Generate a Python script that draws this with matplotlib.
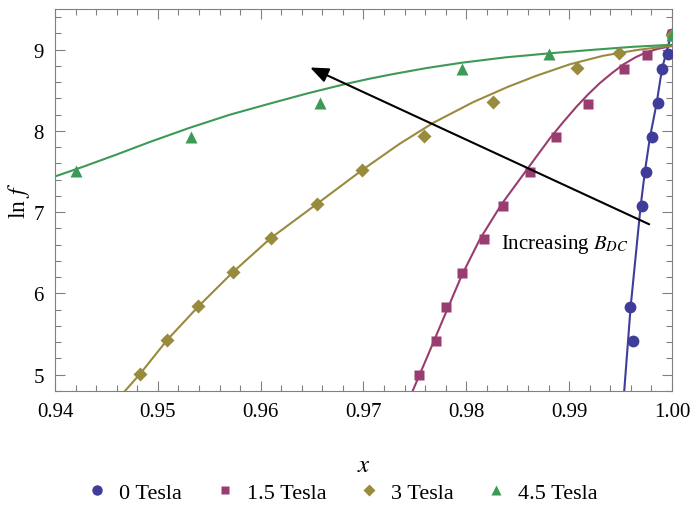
import matplotlib
matplotlib.use("Agg")
import matplotlib.pyplot as plt
from matplotlib.lines import Line2D
from matplotlib.ticker import MultipleLocator, FormatStrFormatter

plt.rcParams['font.family'] = ['Liberation Serif', 'DejaVu Serif']
plt.rcParams['mathtext.fontset'] = 'stix'

labels = ["0 Tesla", "1.5 Tesla", "3 Tesla", "4.5 Tesla"]
colors = ["#3F3D99", "#993D71", "#998B3D", "#3D9956"]
markers = ["o", "s", "D", "^"]

# measured points
x0 = [0.99624, 0.99592, 0.99705, 0.99747, 0.99809, 0.99867, 0.99903, 0.99964, 1.0]
y0 = [5.41, 5.83, 7.08, 7.50, 7.92, 8.34, 8.76, 8.95, 9.19]

x15 = [0.97543, 0.97702, 0.97799, 0.97955, 0.98175, 0.98360, 0.98619, 0.98869, 0.99186, 0.99530, 0.99754, 1.0]
y15 = [5.00, 5.41, 5.83, 6.25, 6.67, 7.08, 7.50, 7.92, 8.33, 8.76, 8.94, 9.19]

x3 = [0.94827, 0.95092, 0.95394, 0.95728, 0.96097, 0.96545, 0.96989, 0.97591, 0.98257, 0.99077, 0.99488, 1.0]
y3 = [5.01, 5.43, 5.84, 6.26, 6.68, 7.10, 7.52, 7.94, 8.35, 8.77, 8.96, 9.18]

x45 = [0.94204, 0.95323, 0.96577, 0.97958, 0.98807, 1.0]
y45 = [7.51, 7.93, 8.34, 8.76, 8.95, 9.18]

# fitted curves
fx0 = [0.99536, 0.99598, 0.99696, 0.99738, 0.99786, 0.99851, 0.99903, 0.99942, 1.0]
fy0 = [4.80, 5.83, 7.08, 7.51, 7.92, 8.34, 8.76, 8.95, 9.22]

fx15 = [0.97478, 0.97620, 0.97780, 0.97955, 0.98133, 0.98344, 0.98587, 0.98700, 0.98814,
        0.98940, 0.99073, 0.99185, 0.99300, 0.99415, 0.99530, 0.99645, 0.99754, 0.99880, 1.0]
fy15 = [4.80, 5.22, 5.70, 6.22, 6.67, 7.10, 7.52, 7.715, 7.91,
        8.105, 8.30, 8.45, 8.59, 8.71, 8.82, 8.905, 8.97, 9.015, 9.045]

fx3 = [0.94680, 0.94827, 0.95092, 0.95394, 0.95728, 0.96097, 0.96545, 0.96989, 0.97350,
       0.97679, 0.98068, 0.98400, 0.98684, 0.99008, 0.99332, 0.99657, 1.0]
fy3 = [4.80, 5.01, 5.43, 5.84, 6.26, 6.68, 7.10, 7.52, 7.84,
       8.10, 8.355, 8.54, 8.68, 8.82, 8.925, 8.995, 9.05]

fx45 = [0.9400, 0.94275, 0.94600, 0.94924, 0.95313, 0.95702, 0.96091, 0.96450, 0.96800,
        0.97050, 0.97290, 0.97620, 0.97960, 0.98380, 0.98810, 0.99250, 0.99620, 1.0]
fy45 = [7.44, 7.56, 7.71, 7.865, 8.04, 8.20, 8.337, 8.46, 8.57,
        8.64, 8.70, 8.775, 8.84, 8.905, 8.955, 9.00, 9.035, 9.06]

xs = [x0, x15, x3, x45]
ys = [y0, y15, y3, y45]
fxs = [fx0, fx15, fx3, fx45]
fys = [fy0, fy15, fy3, fy45]

fig = plt.figure(figsize=(6.92, 5.06), dpi=100)
ax = fig.add_axes([0.0795, 0.2253, 0.8915, 0.7549])

for i in range(4):
    ax.plot(fxs[i], fys[i], color=colors[i], lw=1.5, zorder=2)
    ax.plot(xs[i], ys[i], ls="none", marker=markers[i], color=colors[i],
            ms=[8.5, 7, 7, 8.5][i], mec="none", zorder=3)

ax.annotate("", xy=(0.96457, 8.795), xytext=(0.99803, 6.837),
            arrowprops=dict(arrowstyle="-|>,head_length=1.1,head_width=0.45", color="black", lw=1.5))
ax.text(0.98337, 6.61, "Increasing $B_{DC}$", fontsize=15, va="center", ha="left")

ax.set_xlim(0.94, 1.0)
ax.set_ylim(4.8, 9.5)
ax.xaxis.set_major_locator(MultipleLocator(0.01))
ax.xaxis.set_minor_locator(MultipleLocator(0.002))
ax.yaxis.set_major_locator(MultipleLocator(1))
ax.yaxis.set_minor_locator(MultipleLocator(0.2))
ax.xaxis.set_major_formatter(FormatStrFormatter("%.2f"))
ax.tick_params(which="both", direction="in", top=True, right=True, color="#808080", labelsize=15)
ax.tick_params(which="major", length=7, width=0.8, pad=8)
ax.tick_params(which="minor", length=4, width=0.8)
for s in ax.spines.values():
    s.set_color("#808080")

ax.set_xlabel("$x$", fontsize=18, labelpad=24)
ax.set_ylabel("ln $f$", fontsize=17, labelpad=1)

handles = [Line2D([], [], ls="none", marker=markers[i], color=colors[i], mec="none",
                  ms=[7.5, 6, 6.5, 7][i]) for i in range(4)]
fig.legend(handles, labels, loc="center", bbox_to_anchor=(0.494, 0.024), ncol=4,
           frameon=False, fontsize=16, handletextpad=0.5, columnspacing=1.4,
           handlelength=1.0)

fig.savefig("out.png", dpi=100)
